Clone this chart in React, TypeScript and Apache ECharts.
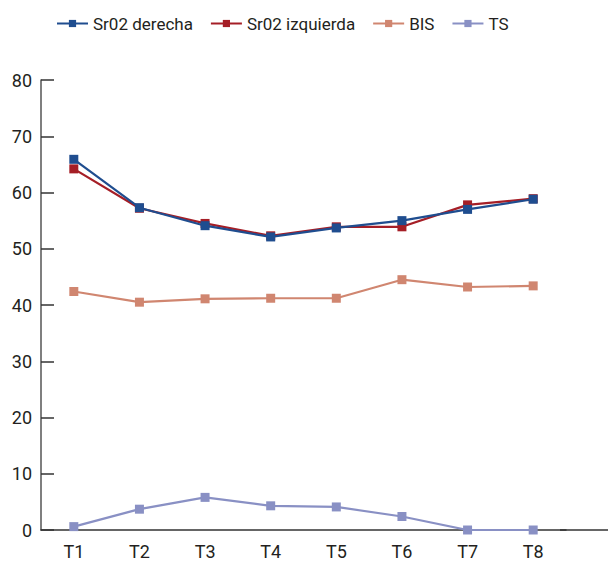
import React, { useEffect, useRef } from "react";
import * as echarts from "echarts";

const categories = ["T1", "T2", "T3", "T4", "T5", "T6", "T7", "T8"];
const sr02Derecha = [65.9, 57.3, 54.1, 52.1, 53.7, 55.0, 57.0, 58.8];
const sr02Izquierda = [64.2, 57.2, 54.5, 52.3, 53.9, 53.9, 57.8, 58.9];
const bis = [42.4, 40.5, 41.1, 41.2, 41.2, 44.5, 43.2, 43.4];
const ts = [0.6, 3.7, 5.8, 4.3, 4.1, 2.4, 0, 0];
const seriesNames = ["Sr02 derecha", "Sr02 izquierda", "BIS", "TS"];
const colors = ["#1f4d8f", "#a51e26", "#d08670", "#8990c4"];

const FONT = "Roboto, 'Noto Sans', sans-serif";

export default function App() {
  const ref = useRef<HTMLDivElement>(null);
  useEffect(() => {
    if (!ref.current) return;
    const chart = echarts.init(ref.current, null, { renderer: "svg" });
    const data = [sr02Derecha, sr02Izquierda, bis, ts];
    const zs = [5, 4, 3, 3];
    chart.setOption({
      animation: false,
      textStyle: { fontFamily: FONT },
      legend: {
        top: 15,
        left: 56,
        padding: 0,
        itemWidth: 31,
        itemHeight: 9,
        itemGap: 17,
        textStyle: { fontSize: 17, color: "#231f20", fontFamily: FONT },
        data: seriesNames,
      },
      grid: { left: 41, right: 50, top: 80, bottom: 47, containLabel: false },
      xAxis: {
        type: "category",
        data: categories,
        boundaryGap: true,
        axisLine: { lineStyle: { color: "#333", width: 1.5 } },
        axisTick: { inside: true, length: 11, lineStyle: { color: "#333" } },
        axisLabel: { color: "#231f20", fontSize: 18, margin: 12, fontFamily: FONT },
      },
      yAxis: {
        type: "value",
        min: 0,
        max: 80,
        interval: 10,
        splitLine: { show: false },
        axisLine: { show: true, lineStyle: { color: "#555", width: 1.5 } },
        axisTick: { show: true, inside: true, length: 13, lineStyle: { color: "#333", width: 1.5 } },
        axisLabel: { color: "#231f20", fontSize: 18, margin: 9, fontFamily: FONT },
      },
      graphic: [
        {
          type: "rect",
          shape: { x: 563, y: 515, width: 6, height: 14 },
          style: { fill: "#fff" },
          z: 100,
        },
        {
          type: "line",
          shape: { x1: 560, y1: 530, x2: 616, y2: 530 },
          style: { stroke: "#333", lineWidth: 1.5 },
          z: 101,
        },
      ],
      series: seriesNames.map((name, i) => ({
        name,
        type: "line",
        data: data[i],
        z: zs[i],
        symbol: "rect",
        symbolSize: 9,
        color: colors[i],
        lineStyle: { color: colors[i], width: 2.2 },
        itemStyle: { color: colors[i] },
      })),
    });
    return () => chart.dispose();
  }, []);
  return <div ref={ref} style={{ width: 616, height: 577, marginLeft: -8, marginTop: -8 }} />;
}
